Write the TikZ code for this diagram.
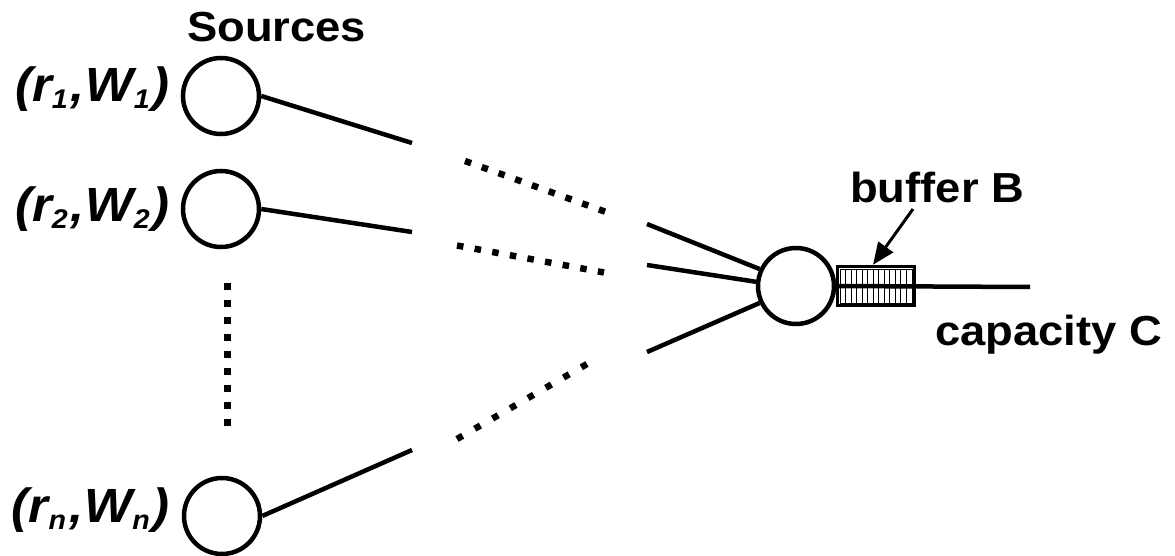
\documentclass[tikz,border=0pt]{standalone}
\usepackage{fontspec}
\setmainfont{Liberation Sans}
\newfontfamily\wideb[FakeStretch=1.08]{Liberation Sans}
\newfontfamily\labfam[FakeStretch=1.06]{Liberation Sans}
\usetikzlibrary{arrows.meta}
\newcommand\bigsz{\fontsize{48}{52}\selectfont}
\newcommand\subsz{\fontsize{27}{30}\selectfont}
\newcommand\srclabel[1]{\labfam\bfseries\itshape\bigsz(r\raisebox{-7pt}{\subsz #1}\kern3pt,\kern1pt W\raisebox{-7pt}{\subsz #1}\kern3pt)}
\tikzset{
  src/.style={circle, draw, line width=4.5pt, minimum size=76pt, inner sep=0pt},
  link/.style={line width=4.5pt},
  dotline/.style={line width=6.5pt, line cap=butt},
  title/.style={font=\wideb\bfseries\fontsize{42}{46}\selectfont, inner sep=0pt},
  lab/.style={inner sep=0pt},
}
\begin{document}
\begin{tikzpicture}[x=1pt,y=-1pt]
\useasboundingbox (0,0) rectangle (1175,556);
% source nodes
\node[src] (s1) at (221,96) {};
\node[src] (s2) at (221,209) {};
\node[src] (sn) at (222,516) {};
\node[src] (sink) at (796,286) {};
% labels
\node[title, anchor=base west] (tsrc) at (187,42) {Sources};
\node[lab, anchor=base east] (l1) at (170,102) {\srclabel{1}};
\node[lab, anchor=base east] (l2) at (170,222) {\srclabel{2}};
\node[lab, anchor=base east] (ln) at (170,522) {\srclabel{n}};
% free ends
\coordinate (e1) at (412,143);
\coordinate (e2) at (412,232);
\coordinate (en) at (412,450);
\coordinate (f1) at (647,224);
\coordinate (f2) at (647,265);
\coordinate (f3) at (647,352);
\coordinate (d1a) at (465,161);
\coordinate (d1b) at (606,212);
\coordinate (d2a) at (457,245.5);
\coordinate (d2b) at (604,272.5);
\coordinate (d3a) at (457,439);
\coordinate (d3b) at (587,364);
\coordinate (v1) at (227,283);
\coordinate (v2) at (227,427);
\coordinate (out) at (1030,287);
% solid links
\draw[link] (s1.east) -- (e1);
\draw[link] (s2.east) -- (e2);
\draw[link] (sn.east) -- (en);
\draw[link] (f1) -- (sink.155);
\draw[link] (f2) -- (sink.174);
\draw[link] (f3) -- (sink.205);
% dotted parts
\draw[dotline, dash pattern=on 6.5pt off 11.3pt] (d1a) -- (d1b);
\draw[dotline, dash pattern=on 6.5pt off 11.4pt] (d2a) -- (d2b);
\draw[dotline, dash pattern=on 6.5pt off 14pt] (d3a) -- (d3b);
\draw[dotline, line width=7pt, dash pattern=on 7pt off 10pt] (v1) -- (v2);
% buffer
\node[draw, line width=3.5pt, minimum width=77pt, minimum height=39pt, inner sep=0pt] (buf) at (876,286) {};
\draw[line width=0.8pt] (840,269) rectangle (912,303);
\foreach \i in {0,...,12} {
  \draw[line width=0.8pt] (840+5.5*\i,269) -- (840+5.5*\i,303);
}
\draw[link] (sink.east) -- (out);
% buffer label and arrow
\node[title, anchor=base west] (tbuf) at (850,203) {buffer B};
\coordinate (ab) at (913,209);
\draw[line width=3pt, -{Triangle[length=22pt,width=18pt]}] (ab) -- (buf.north -| 873,0);
\node[title, anchor=base west] (tcap) at (935,345) {capacity C};
\end{tikzpicture}
\end{document}
